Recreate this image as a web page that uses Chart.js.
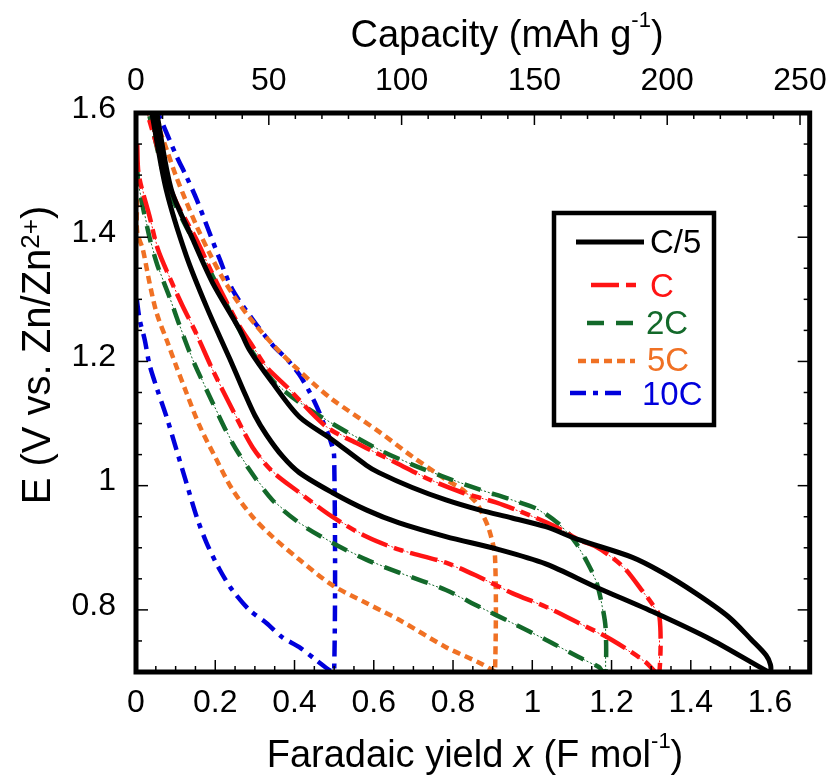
<!DOCTYPE html>
<html lang="en">
<head>
<meta charset="UTF-8" />
<title>Discharge curves</title>
<script src="https://cdn.jsdelivr.net/npm/chart.js"></script>
<style>
  body { margin: 0; background: #fff; }
  canvas { display: block; }
</style>
</head>
<body>
<canvas id="chart" width="832" height="778"></canvas>
<script>
const rateLabels = ["C/5", "C", "2C", "5C", "10C"];
const rateColors = ["#000000", "#ff1414", "#13692a", "#f07124", "#0000dc"];
const xTicks = [0, 0.2, 0.4, 0.6, 0.8, 1, 1.2, 1.4, 1.6];
const capacityTicks = [0, 50, 100, 150, 200, 250];
const yTicks = [0.8, 1, 1.2, 1.4, 1.6];
const mAhPerFaraday = 149.2; // 1 F mol-1 in mAh g-1

// each loop: lower branch down to 0.7 V, vertical step, then upper branch back
const loopC5 = [
  [0.04, 1.60], [0.076, 1.477], [0.127, 1.370], [0.18, 1.285], [0.236, 1.205],
  [0.27, 1.155], [0.30, 1.113], [0.329, 1.082], [0.37, 1.047], [0.412, 1.021],
  [0.495, 0.989], [0.581, 0.961], [0.664, 0.940], [0.782, 0.918], [0.916, 0.897],
  [1.034, 0.874], [1.16, 0.837], [1.311, 0.795], [1.452, 0.752], [1.596, 0.70],
  [1.601, 0.70], [1.601, 0.712], [1.59, 0.727], [1.553, 0.752], [1.495, 0.789],
  [1.412, 0.827], [1.326, 0.861], [1.251, 0.885], [1.117, 0.913], [1.034, 0.934],
  [0.949, 0.948], [0.866, 0.961], [0.782, 0.977], [0.697, 0.997], [0.613, 1.021],
  [0.581, 1.033], [0.495, 1.074], [0.412, 1.111], [0.344, 1.166], [0.286, 1.219],
  [0.261, 1.252], [0.193, 1.327], [0.143, 1.397], [0.089, 1.477], [0.052, 1.602]
];
const loopC = [
  [0.003, 1.55], [0.007, 1.50], [0.034, 1.434], [0.055, 1.381], [0.085, 1.335],
  [0.117, 1.290], [0.152, 1.245], [0.193, 1.187], [0.243, 1.123], [0.294, 1.062],
  [0.344, 1.023], [0.412, 0.989], [0.495, 0.950], [0.581, 0.918], [0.664, 0.897],
  [0.782, 0.876], [0.866, 0.853], [0.949, 0.827], [1.034, 0.805], [1.117, 0.779],
  [1.20, 0.752], [1.286, 0.716], [1.311, 0.70],
  [1.321, 0.70], [1.321, 0.789], [1.301, 0.811], [1.276, 0.832], [1.236, 0.865],
  [1.20, 0.885], [1.16, 0.902], [1.117, 0.913], [1.059, 0.934], [0.991, 0.953],
  [0.908, 0.973], [0.823, 0.989], [0.74, 1.010], [0.656, 1.037], [0.555, 1.069],
  [0.48, 1.095], [0.379, 1.160], [0.328, 1.192], [0.294, 1.225], [0.26, 1.258],
  [0.225, 1.300], [0.19, 1.345], [0.152, 1.397], [0.102, 1.456], [0.076, 1.499],
  [0.029, 1.598]
];
const loop2C = [
  [0.003, 1.51], [0.007, 1.482], [0.034, 1.40], [0.054, 1.355], [0.085, 1.303],
  [0.11, 1.258], [0.143, 1.203], [0.193, 1.134], [0.243, 1.069], [0.286, 1.026],
  [0.344, 0.977], [0.412, 0.940], [0.495, 0.908], [0.581, 0.881], [0.664, 0.860],
  [0.782, 0.832], [0.866, 0.805], [0.949, 0.779], [1.034, 0.752], [1.117, 0.724],
  [1.168, 0.708], [1.178, 0.70],
  [1.185, 0.70], [1.185, 0.771], [1.175, 0.811], [1.16, 0.848], [1.135, 0.881],
  [1.11, 0.908], [1.075, 0.934], [1.017, 0.961], [0.949, 0.977], [0.866, 0.994],
  [0.782, 1.013], [0.697, 1.034], [0.613, 1.058], [0.495, 1.100], [0.43, 1.126],
  [0.379, 1.150], [0.344, 1.170], [0.278, 1.231], [0.243, 1.273], [0.203, 1.325],
  [0.168, 1.369], [0.12, 1.425], [0.077, 1.485], [0.042, 1.574], [0.034, 1.595]
];
const loop5C = [
  [0.003, 1.461], [0.003, 1.408], [0.017, 1.381], [0.034, 1.327], [0.052, 1.278],
  [0.08, 1.230], [0.10, 1.195], [0.127, 1.150], [0.16, 1.097], [0.203, 1.042],
  [0.243, 0.994], [0.294, 0.950], [0.344, 0.918], [0.412, 0.881], [0.495, 0.840],
  [0.581, 0.811], [0.664, 0.784], [0.782, 0.740], [0.866, 0.715], [0.899, 0.703],
  [0.906, 0.70], [0.906, 0.885], [0.891, 0.929], [0.873, 0.956], [0.858, 0.973],
  [0.823, 0.994], [0.782, 1.010], [0.697, 1.047], [0.613, 1.087], [0.495, 1.139],
  [0.45, 1.163], [0.40, 1.192], [0.35, 1.224], [0.30, 1.260], [0.26, 1.293],
  [0.22, 1.333], [0.185, 1.375], [0.155, 1.415], [0.125, 1.460], [0.10, 1.500],
  [0.078, 1.540], [0.06, 1.572], [0.045, 1.600]
];
const loop10C = [
  [0.002, 1.30], [0.009, 1.268], [0.022, 1.235], [0.034, 1.195], [0.052, 1.158],
  [0.077, 1.111], [0.102, 1.058], [0.127, 1.005], [0.153, 0.950], [0.178, 0.908],
  [0.211, 0.865], [0.243, 0.832], [0.286, 0.800], [0.329, 0.779], [0.369, 0.756],
  [0.412, 0.740], [0.455, 0.719], [0.488, 0.703],
  [0.50, 0.70], [0.50, 1.047], [0.49, 1.074], [0.475, 1.098], [0.457, 1.126],
  [0.437, 1.152], [0.412, 1.179], [0.382, 1.203], [0.344, 1.227], [0.294, 1.268],
  [0.243, 1.316], [0.211, 1.365], [0.185, 1.408], [0.153, 1.461], [0.127, 1.498],
  [0.102, 1.531], [0.059, 1.595], [0.054, 1.602]
];

const loops = [loopC5, loopC, loop2C, loop5C, loop10C];
const dashes = [[], [28, 7, 10, 7], [17, 12], [8, 5], [16, 7, 5, 7]];
const widths = [5, 4.5, 4.5, 4.5, 4.5];

const FONT = "'Liberation Sans', Arial, Helvetica, sans-serif";

function drawRuns(ctx, runs, x, y) {
  let total = 0;
  for (const r of runs) { ctx.font = r[1]; total += ctx.measureText(r[0]).width; }
  let cx = x - total / 2;
  for (const r of runs) {
    ctx.font = r[1];
    ctx.fillText(r[0], cx, y + (r[2] || 0));
    cx += ctx.measureText(r[0]).width;
  }
}

const decorations = {
  id: "decorations",
  beforeDatasetsDraw(chart) {
    // faint thin trace under the dashed curves
    const { ctx, chartArea: a } = chart;
    ctx.save();
    ctx.beginPath();
    ctx.rect(a.left, a.top, a.width, a.height);
    ctx.clip();
    chart.data.datasets.forEach((ds, i) => {
      if (!ds.thinTrace) return;
      const pts = chart.getDatasetMeta(i).data;
      ctx.beginPath();
      pts.forEach((p, k) => (k ? ctx.lineTo(p.x, p.y) : ctx.moveTo(p.x, p.y)));
      ctx.strokeStyle = ds.borderColor;
      ctx.lineWidth = 1;
      ctx.setLineDash([2, 2]);
      ctx.stroke();
    });
    ctx.restore();
  },
  afterDatasetsDraw(chart) {
    const { ctx, chartArea: a, scales } = chart;
    const sx = scales.x, sx2 = scales.x2, sy = scales.y;
    ctx.save();
    ctx.strokeStyle = "#000";
    ctx.lineWidth = 1.5;
    ctx.setLineDash([]);
    const line = (x1, y1, x2, y2) => {
      ctx.beginPath(); ctx.moveTo(x1, y1); ctx.lineTo(x2, y2); ctx.stroke();
    };
    // inward ticks, minor and major
    for (let i = 0; i <= 34; i++) {
      const px = sx.getPixelForValue(i * 0.05);
      line(px, a.bottom, px, a.bottom - (i % 4 === 0 ? 12 : 6));
    }
    for (let i = 0; i <= 25; i++) {
      const px = sx2.getPixelForValue(i * 10);
      line(px, a.top, px, a.top + (i % 5 === 0 ? 12 : 6));
    }
    for (let i = 14; i <= 32; i++) {
      const py = sy.getPixelForValue(i * 0.05);
      const L = i % 4 === 0 ? 12 : 6;
      line(a.left, py, a.left + L, py);
      line(a.right, py, a.right - L, py);
    }
    ctx.lineWidth = 5;
    ctx.strokeRect(a.left, a.top, a.width, a.height);
    ctx.restore();
  },
  afterDraw(chart) {
    const ctx = chart.ctx;
    ctx.save();
    ctx.fillStyle = "#000";
    ctx.textAlign = "left";
    ctx.textBaseline = "alphabetic";
    const big = "38px " + FONT, sup = "22px " + FONT;
    drawRuns(ctx, [["Capacity (mAh g", big], ["-1", sup, -20], [")", big]], 507, 47);
    drawRuns(ctx, [["Faradaic yield ", big], ["x", "italic " + big], [" (F mol", big],
      ["-1", sup, -19], [")", big]], 475, 767);
    ctx.translate(50, 355);
    ctx.rotate(-Math.PI / 2);
    drawRuns(ctx, [["E (V vs. Zn/Zn", "40px " + FONT], ["2+", "26px " + FONT, -11],
      [")", "40px " + FONT]], 0, 0);
    ctx.restore();

    // legend box
    ctx.save();
    ctx.fillStyle = "#fff";
    ctx.fillRect(554, 213, 160, 212);
    ctx.lineWidth = 4.5;
    ctx.strokeStyle = "#000";
    ctx.strokeRect(554, 213, 160, 212);
    const rows = [
      { y: 242, x1: 576, x2: 644, tx: 650, ty: 244 },
      { y: 285, x1: 591, x2: 640, tx: 650, ty: 288 },
      { y: 323, x1: 587, x2: 637, tx: 646, ty: 325 },
      { y: 361, x1: 578, x2: 635, tx: 647, ty: 362 },
      { y: 393, x1: 570, x2: 626, tx: 642, ty: 396 }
    ];
    ctx.font = "33px " + FONT;
    ctx.textBaseline = "middle";
    chart.data.datasets.forEach((ds, i) => {
      const r = rows[i];
      ctx.strokeStyle = ds.borderColor;
      ctx.lineWidth = ds.borderWidth;
      ctx.setLineDash(ds.borderDash);
      ctx.beginPath(); ctx.moveTo(r.x1, r.y); ctx.lineTo(r.x2, r.y); ctx.stroke();
      ctx.fillStyle = ds.borderColor;
      ctx.fillText(ds.label, r.tx, r.ty);
    });
    ctx.restore();
  }
};

const tickFont = { family: FONT, size: 32 };
const fmt = v => String(+Number(v).toFixed(2));

new Chart(document.getElementById("chart"), {
  type: "scatter",
  data: {
    datasets: loops.map((loop, i) => ({
      label: rateLabels[i],
      data: loop.map(p => ({ x: p[0], y: p[1] })),
      showLine: true,
      borderColor: rateColors[i],
      borderWidth: widths[i],
      borderDash: dashes[i],
      pointRadius: 0,
      tension: 0.3,
      thinTrace: i === 1 || i === 2
    }))
  },
  options: {
    responsive: false,
    animation: false,
    devicePixelRatio: 1,
    layout: { padding: { right: 20, left: 0, top: 0, bottom: 0 } },
    plugins: { legend: { display: false }, tooltip: { enabled: false } },
    scales: {
      x: {
        type: "linear", position: "bottom", min: 0, max: 1.7,
        afterBuildTicks: s => { s.ticks = xTicks.map(v => ({ value: v })); },
        afterFit: s => { s.height = 106; },
        grid: { display: false }, border: { display: false },
        ticks: { font: tickFont, color: "#000", padding: 4, maxRotation: 0, autoSkip: false, callback: fmt }
      },
      x2: {
        type: "linear", position: "top", min: 0, max: 1.7 * mAhPerFaraday,
        afterBuildTicks: s => { s.ticks = capacityTicks.map(v => ({ value: v })); },
        afterFit: s => { s.height = 113; },
        grid: { display: false }, border: { display: false },
        ticks: { font: tickFont, color: "#000", padding: 5, maxRotation: 0, autoSkip: false, callback: fmt }
      },
      y: {
        type: "linear", position: "left", min: 0.7, max: 1.6,
        afterBuildTicks: s => { s.ticks = yTicks.map(v => ({ value: v })); },
        afterFit: s => { s.width = 136; },
        grid: { display: false }, border: { display: false },
        ticks: { font: tickFont, color: "#000", padding: 12, labelOffset: -4, autoSkip: false, callback: fmt }
      }
    }
  },
  plugins: [decorations]
});
</script>
</body>
</html>
